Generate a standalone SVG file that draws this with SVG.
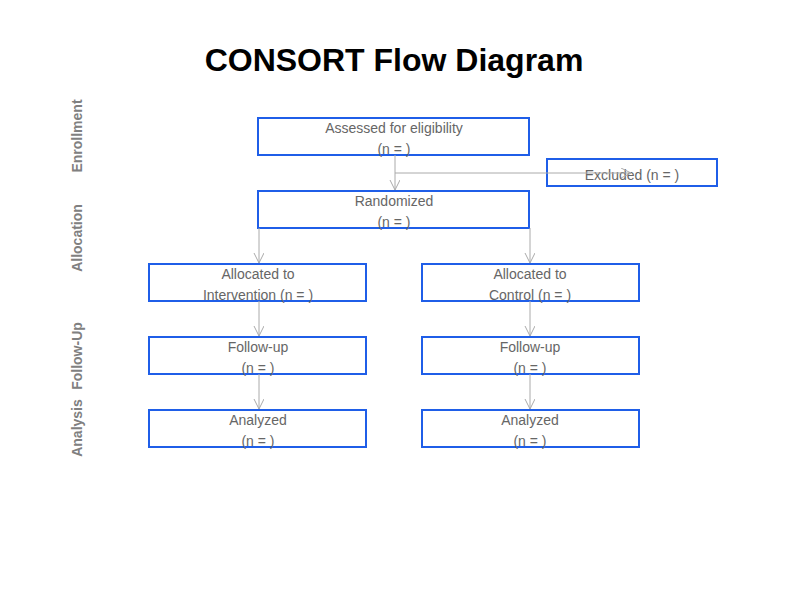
<svg xmlns="http://www.w3.org/2000/svg" width="800" height="600" viewBox="0 0 800 600">
<style>
.b{fill:#fff;stroke:#1f5ee8;stroke-width:2}
.t{font-family:"Liberation Sans",Arial,sans-serif;font-size:14px;fill:#666;text-anchor:middle}
.s{font-family:"Liberation Sans",Arial,sans-serif;font-size:14px;font-weight:bold;fill:#808080;text-anchor:middle}
.c{stroke:#aaa;stroke-width:1;fill:none;marker-end:url(#a)}
</style>
<defs><marker id="a" markerWidth="12" markerHeight="12" refX="10" refY="5" orient="auto" markerUnits="userSpaceOnUse"><path d="M0,0 L10,5 L0,10" fill="none" stroke="#aaa"/></marker></defs>
<rect width="800" height="600" fill="#fff"/>
<text x="394" y="71" font-family="Liberation Sans,Arial,sans-serif" font-size="32" font-weight="bold" text-anchor="middle">CONSORT Flow Diagram</text>
<text class="s" transform="translate(82,136) rotate(-90)">Enrollment</text>
<text class="s" transform="translate(82,238) rotate(-90)">Allocation</text>
<text class="s" transform="translate(82,356) rotate(-90)">Follow-Up</text>
<text class="s" transform="translate(82,428) rotate(-90)">Analysis</text>
<g id="assessed"><rect class="b" x="258" y="118" width="271" height="37"/><text class="t" x="394" y="133">Assessed for eligibility</text><text class="t" x="394" y="154">(n =   )</text></g>
<g id="excluded"><rect class="b" x="547" y="159" width="170" height="27"/><text class="t" x="632" y="180">Excluded (n =   )</text></g>
<g id="randomized"><rect class="b" x="258" y="191" width="271" height="37"/><text class="t" x="394" y="206">Randomized</text><text class="t" x="394" y="227">(n =   )</text></g>
<g id="alloc-int"><rect class="b" x="149" y="264" width="217" height="37"/><text class="t" x="258" y="279">Allocated to</text><text class="t" x="258" y="300">Intervention (n =   )</text></g>
<g id="alloc-ctl"><rect class="b" x="422" y="264" width="217" height="37"/><text class="t" x="530" y="279">Allocated to</text><text class="t" x="530" y="300">Control (n =   )</text></g>
<g id="fu-int"><rect class="b" x="149" y="337" width="217" height="37"/><text class="t" x="258" y="352">Follow-up</text><text class="t" x="258" y="373">(n =   )</text></g>
<g id="fu-ctl"><rect class="b" x="422" y="337" width="217" height="37"/><text class="t" x="530" y="352">Follow-up</text><text class="t" x="530" y="373">(n =   )</text></g>
<g id="an-int"><rect class="b" x="149" y="410" width="217" height="37"/><text class="t" x="258" y="425">Analyzed</text><text class="t" x="258" y="446">(n =   )</text></g>
<g id="an-ctl"><rect class="b" x="422" y="410" width="217" height="37"/><text class="t" x="530" y="425">Analyzed</text><text class="t" x="530" y="446">(n =   )</text></g>
<g id="connectors">
<path class="c" d="M395,155 V190"/>
<path class="c" d="M395,173 H631"/>
<path class="c" d="M259,228 V263"/>
<path class="c" d="M530,228 V263"/>
<path class="c" d="M259,301 V336"/>
<path class="c" d="M530,301 V336"/>
<path class="c" d="M259,374 V409"/>
<path class="c" d="M530,374 V409"/>
</g>
</svg>
